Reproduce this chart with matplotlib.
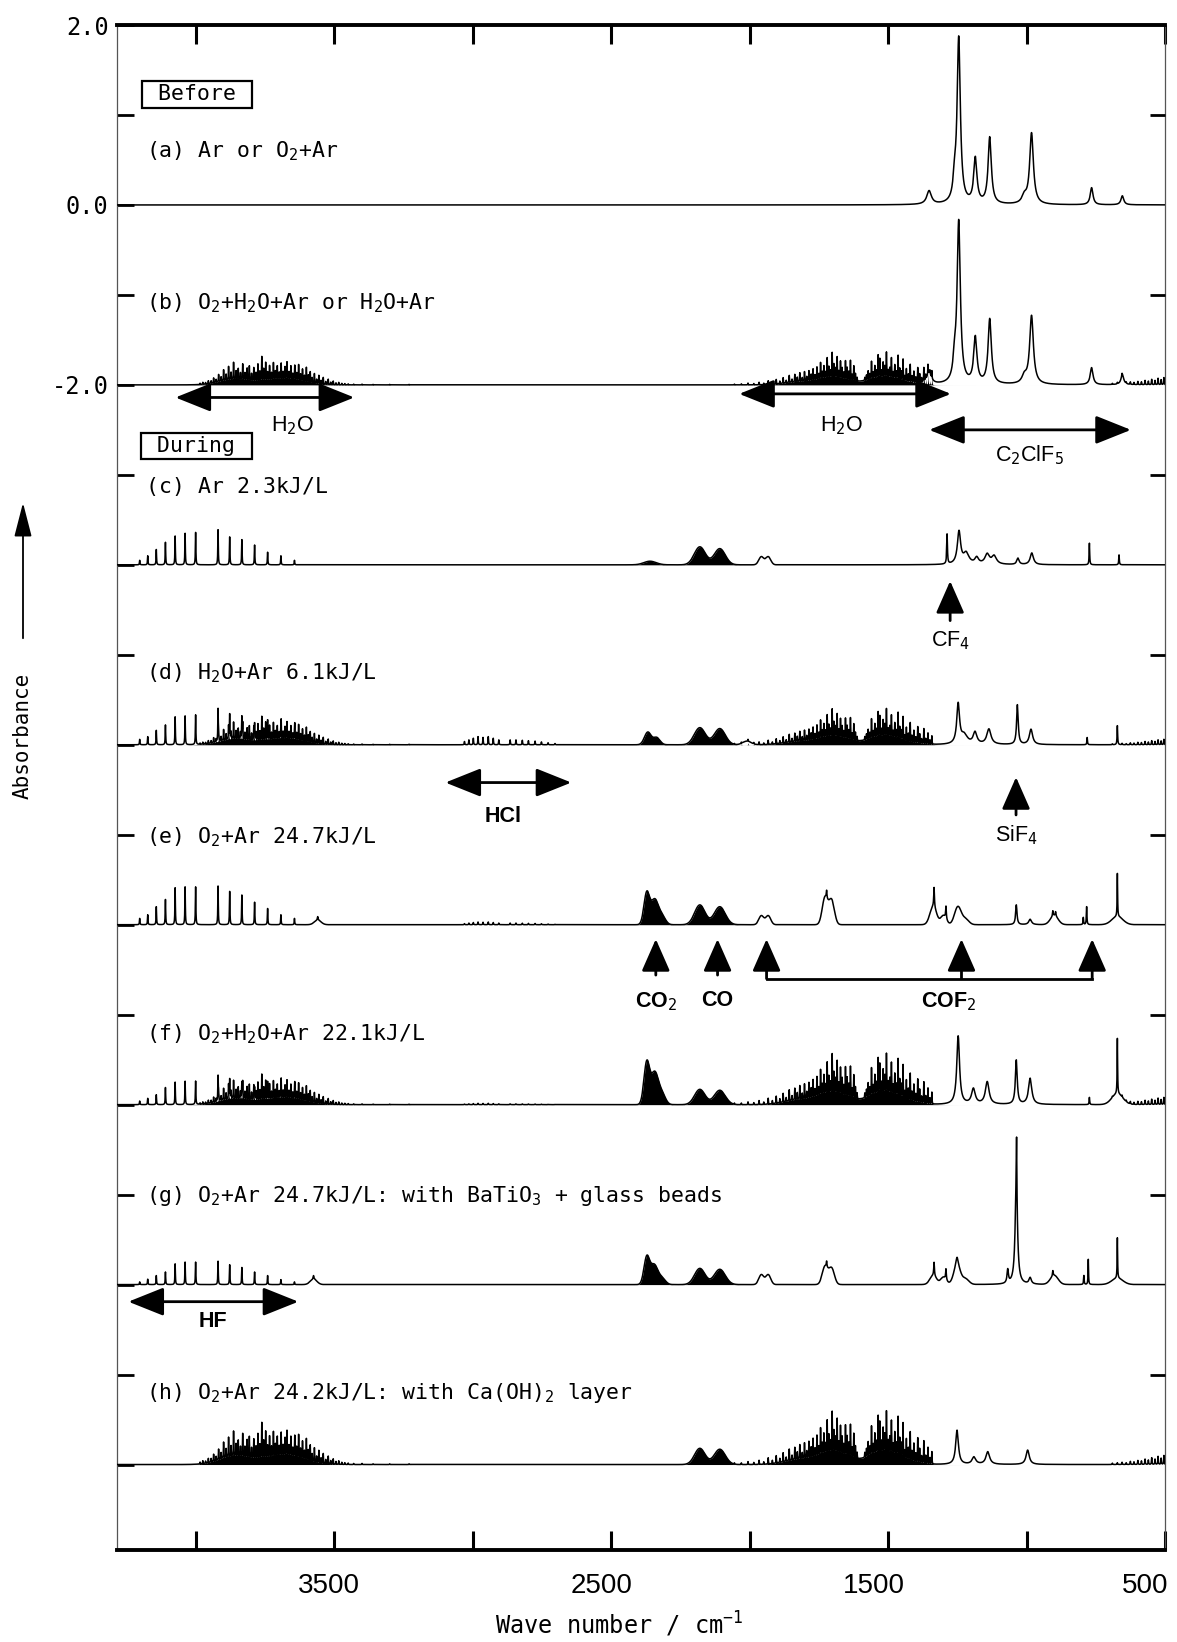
import numpy as np
import matplotlib.pyplot as plt

plt.rcParams['mathtext.fontset'] = 'custom'
plt.rcParams['mathtext.rm'] = 'DejaVu Sans Mono'
plt.rcParams['mathtext.it'] = 'DejaVu Sans Mono'
plt.rcParams['mathtext.bf'] = 'DejaVu Sans Mono:bold'

MONO = 'DejaVu Sans Mono'
NARROW = ['Liberation Sans Narrow', 'Liberation Sans', 'DejaVu Sans']

## trace offsets (absorbance) and titles
BASELINES = [0, -2, -4, -6, -8, -10, -12, -14]
TITLES = [r'(a) Ar or O$_2$+Ar',
          r'(b) O$_2$+H$_2$O+Ar or H$_2$O+Ar',
          r'(c) Ar 2.3kJ/L',
          r'(d) H$_2$O+Ar 6.1kJ/L',
          r'(e) O$_2$+Ar 24.7kJ/L',
          r'(f) O$_2$+H$_2$O+Ar 22.1kJ/L',
          r'(g) O$_2$+Ar 24.7kJ/L: with BaTiO$_3$ + glass beads',
          r'(h) O$_2$+Ar 24.2kJ/L: with Ca(OH)$_2$ layer']

## HF rotational lines (cm-1) and their heights in c..g
HF_WN = [4203, 4174, 4143, 4110, 4075, 4039, 4001, 3920, 3878, 3834, 3788, 3741, 3693, 3644]
HF_HT_C = [0.05, 0.10, 0.17, 0.25, 0.32, 0.35, 0.36, 0.39, 0.31, 0.28, 0.22, 0.14, 0.10, 0.05]
HF_HT_D = [0.06, 0.09, 0.16, 0.22, 0.31, 0.32, 0.33, 0.36, 0.28, 0.25, 0.19, 0.13, 0.09, 0.05]
HF_HT_E = [0.07, 0.11, 0.20, 0.28, 0.41, 0.42, 0.42, 0.43, 0.37, 0.33, 0.25, 0.18, 0.11, 0.07]
HF_HT_F = [0.04, 0.07, 0.11, 0.19, 0.25, 0.26, 0.26, 0.28, 0.22, 0.18, 0.14, 0.10, 0.07, 0.04]
HF_HT_G = [0.03, 0.06, 0.10, 0.14, 0.23, 0.25, 0.25, 0.26, 0.22, 0.19, 0.14, 0.10, 0.055, 0.03]
HF_HT_0 = [0.0] * 14

## HCl lines
HCL_WN = [3030, 3014, 2998, 2981, 2963, 2944, 2926, 2906, 2865, 2844, 2821, 2799, 2775, 2752, 2728, 2703]
HCL_REL = [0.4, 0.6, 0.8, 1.0, 0.9, 1.0, 0.8, 0.6, 0.6, 0.6, 0.55, 0.5, 0.45, 0.35, 0.25, 0.15]
HCL_SCALE = [0, 0, 0, 0.09, 0.03, 0.015, 0, 0]

## water: stretching band lines
H2O_STR_WN = [3985, 3975, 3965, 3955, 3945, 3936, 3927, 3918, 3909, 3900,
              3891, 3882, 3873, 3864, 3855, 3847, 3839, 3831, 3823, 3815,
              3807, 3799, 3791, 3783, 3776, 3769, 3762, 3755, 3748, 3741,
              3734, 3727, 3720, 3713, 3706, 3699, 3692, 3685, 3678, 3671,
              3664, 3657, 3650, 3643, 3636, 3629, 3622, 3615, 3608, 3601,
              3594, 3587, 3580, 3572, 3564, 3556, 3548, 3540, 3531, 3522,
              3513, 3504, 3494, 3484, 3473, 3462, 3450, 3430, 3400, 3360,
              3300, 3230]
H2O_STR_REL = [0.05, 0.08, 0.06, 0.12, 0.10, 0.20, 0.12, 0.30, 0.18, 0.45,
               0.25, 0.55, 0.30, 0.70, 0.35, 0.45, 0.28, 0.65, 0.30, 0.50,
               0.60, 0.30, 0.55, 0.35, 0.70, 0.40, 1.00, 0.50, 0.75, 0.35,
               0.60, 0.30, 0.70, 0.35, 0.55, 0.28, 0.65, 0.30, 0.50, 0.70,
               0.30, 0.55, 0.25, 0.60, 0.30, 0.65, 0.28, 0.50, 0.25, 0.60,
               0.30, 0.45, 0.22, 0.40, 0.18, 0.35, 0.15, 0.28, 0.12, 0.22,
               0.10, 0.15, 0.08, 0.10, 0.06, 0.05, 0.04, 0.03, 0.03, 0.02,
               0.02, 0.02]
H2O_STR_ENV = [(3860, 0.22, 55), (3680, 0.24, 65)]

## water: bending band lines
H2O_BEND_WN = [1342, 1349, 1356, 1364, 1371, 1379, 1386, 1393, 1400, 1407,
               1414, 1420, 1427, 1434, 1440, 1446, 1452, 1458, 1464, 1470,
               1476, 1482, 1488, 1494, 1500, 1506, 1512, 1518, 1524, 1530,
               1536, 1542, 1548, 1554, 1560, 1566, 1572, 1578, 1584, 1612,
               1618, 1624, 1630, 1636, 1642, 1648, 1654, 1660, 1666, 1672,
               1678, 1684, 1690, 1696, 1702, 1708, 1714, 1720, 1726, 1732,
               1738, 1744, 1750, 1757, 1764, 1771, 1778, 1786, 1794, 1802,
               1810, 1819, 1828, 1837, 1847, 1857, 1868, 1879, 1891, 1904,
               1918, 1933, 1949, 1966, 1985, 2006, 2030, 2055]
H2O_BEND_REL = [0.30, 0.15, 0.40, 0.20, 0.55, 0.18, 0.35, 0.60, 0.22, 0.45,
                0.25, 0.70, 0.30, 0.50, 0.20, 0.85, 0.35, 0.45, 0.95, 0.30,
                0.55, 0.25, 0.80, 0.40, 0.30, 1.00, 0.45, 0.60, 0.28, 0.75,
                0.90, 0.30, 0.50, 0.25, 0.70, 0.22, 0.35, 0.20, 0.12, 0.15,
                0.30, 0.60, 0.25, 0.80, 0.35, 0.50, 0.75, 0.28, 0.45, 0.70,
                0.30, 0.85, 0.40, 0.55, 1.00, 0.30, 0.45, 0.80, 0.25, 0.50,
                0.28, 0.65, 0.22, 0.50, 0.20, 0.45, 0.25, 0.40, 0.18, 0.38,
                0.15, 0.35, 0.18, 0.30, 0.12, 0.28, 0.10, 0.22, 0.10, 0.18,
                0.08, 0.15, 0.06, 0.10, 0.05, 0.07, 0.04, 0.03]
H2O_BEND_ENV = [(1705, 0.26, 55), (1515, 0.28, 60), (1830, 0.10, 50)]

## water: pure rotation lines at the low end
H2O_ROT_WN = [690, 672, 655, 640, 625, 612, 598, 585, 572, 560, 548, 536, 525, 514, 504]
H2O_ROT_REL = [0.15, 0.2, 0.25, 0.2, 0.35, 0.3, 0.45, 0.4, 0.6, 0.5, 0.75, 0.6, 0.9, 0.7, 1.0]

H2O_STR_SCALE = [0, 0.27, 0, 0.27, 0, 0.29, 0, 0.40]
H2O_BEND_SCALE = [0, 0.28, 0, 0.31, 0, 0.44, 0, 0.46]
H2O_ROT_SCALE = [0, 0.08, 0, 0.06, 0, 0.08, 0, 0.10]

## sharp peaks (centre, height, hwhm) - lorentzian
PEAKS_A = [(1352, 0.15, 10), (1260, 0.20, 6), (1245, 1.84, 7), (1185, 0.50, 7),
           (1133, 0.74, 7), (1008, 0.08, 10), (982, 0.79, 8), (765, 0.19, 6), (654, 0.10, 6)]
PEAKS_B = [(1352, 0.12, 10), (1260, 0.20, 6), (1245, 1.80, 7), (1185, 0.51, 7),
           (1133, 0.72, 7), (1008, 0.08, 10), (982, 0.76, 8), (765, 0.19, 6), (654, 0.11, 6)]
PEAKS_C = [(1287, 0.33, 1.5), (1244, 0.36, 7), (1218, 0.12, 12), (1180, 0.07, 8),
           (1142, 0.11, 10), (1117, 0.09, 10), (1031, 0.07, 5), (981, 0.13, 7),
           (773, 0.24, 1.2), (666, 0.11, 1.2)]
PEAKS_D = [(1247, 0.44, 6), (1225, 0.10, 14), (1186, 0.13, 8), (1136, 0.17, 9),
           (1033, 0.44, 3.5), (984, 0.17, 7), (781, 0.08, 1.2), (672, 0.20, 1.2)]
PEAKS_E = [(3560, 0.04, 1.5), (1722, 0.08, 1.2), (1334, 0.22, 1.5), (1291, 0.14, 1.5),
           (1037, 0.22, 3), (987, 0.06, 6), (905, 0.06, 1.5), (895, 0.05, 1.5),
           (795, 0.08, 1.2), (783, 0.20, 1.2), (672, 0.48, 1.0)]
PEAKS_F = [(1247, 0.76, 6), (1192, 0.17, 8), (1142, 0.25, 8), (1037, 0.49, 4),
           (987, 0.29, 7), (773, 0.08, 1.2), (672, 0.60, 1.0)]
PEAKS_G = [(3575, 0.04, 1.5), (1722, 0.06, 1.2), (1334, 0.15, 1.5), (1291, 0.12, 1.5),
           (1251, 0.10, 5), (1068, 0.15, 3), (1037, 1.10, 5), (1036, 0.58, 1.0),
           (987, 0.07, 5), (905, 0.06, 1.5), (793, 0.10, 1.2), (777, 0.28, 1.0), (672, 0.45, 1.0)]
PEAKS_H = [(1251, 0.38, 6), (1190, 0.08, 8), (1140, 0.14, 8), (996, 0.16, 7)]

## broad bands (centre, height, sigma) - gaussian outline
BANDS_C = [(1958, 0.09, 9), (1933, 0.09, 9)]
BANDS_D = [(2010, 0.04, 15)]
BANDS_E = [(3560, 0.05, 12), (1958, 0.10, 9), (1933, 0.10, 9), (1728, 0.30, 10),
           (1704, 0.27, 10), (1337, 0.20, 12), (1300, 0.10, 10), (1248, 0.20, 12),
           (1220, 0.06, 12), (900, 0.10, 14), (672, 0.09, 20)]
BANDS_F = [(672, 0.12, 20)]
BANDS_G = [(3575, 0.06, 12), (1958, 0.11, 9), (1933, 0.11, 9), (1728, 0.20, 10),
           (1704, 0.18, 10), (1337, 0.10, 12), (1300, 0.08, 10), (1251, 0.20, 12),
           (1220, 0.06, 12), (900, 0.10, 14), (672, 0.07, 20)]

## CO2 / CO rovibrational envelopes, drawn solid
FILL_C = [(2360, 0.04, 22), (2180, 0.20, 20), (2108, 0.18, 20)]
FILL_D = [(2368, 0.14, 12), (2336, 0.08, 12), (2180, 0.19, 20), (2108, 0.18, 20)]
FILL_E = [(2372, 0.34, 10), (2343, 0.28, 14), (2315, 0.08, 12), (2180, 0.22, 19), (2108, 0.20, 20)]
FILL_F = [(2372, 0.45, 10), (2343, 0.36, 14), (2315, 0.10, 12), (2180, 0.17, 19), (2108, 0.16, 20)]
FILL_G = [(2372, 0.29, 10), (2345, 0.22, 14), (2315, 0.06, 12), (2180, 0.18, 19), (2108, 0.17, 20)]
FILL_H = [(2180, 0.18, 19), (2108, 0.17, 20)]

PEAKS = [PEAKS_A, PEAKS_B, PEAKS_C, PEAKS_D, PEAKS_E, PEAKS_F, PEAKS_G, PEAKS_H]
BANDS = [[], [], BANDS_C, BANDS_D, BANDS_E, BANDS_F, BANDS_G, []]
FILLED = [[], [], FILL_C, FILL_D, FILL_E, FILL_F, FILL_G, FILL_H]
HF_HT = [HF_HT_0, HF_HT_0, HF_HT_C, HF_HT_D, HF_HT_E, HF_HT_F, HF_HT_G, HF_HT_0]


def lorentz(x, c, h, w):
    return h * w**2 / ((x - c)**2 + w**2)


def gauss(x, c, h, s):
    return h * np.exp(-0.5 * ((x - c) / s)**2)


wn = np.arange(480.0, 4300.0, 0.25)

fig = plt.figure(figsize=(11.77, 16.42), dpi=100)
ax = fig.add_axes([117/1177, 92/1642, 1048/1177, 1525/1642])

for i in range(8):
    base = BASELINES[i]
    line = np.zeros_like(wn)
    dense = np.zeros_like(wn)
    for c, h, w in PEAKS[i]:
        line += lorentz(wn, c, h, w)
    for c, h, s in BANDS[i]:
        line += gauss(wn, c, h, s)
    for c, h, s in FILLED[i]:
        dense += gauss(wn, c, h, s)
    for c, h in zip(HF_WN, HF_HT[i]):
        line += lorentz(wn, c, h, 1.0)
    if HCL_SCALE[i]:
        for c, r in zip(HCL_WN, HCL_REL):
            line += lorentz(wn, c, HCL_SCALE[i] * r, 1.0)
    ## water bands: packed lines, filled solid underneath
    k = H2O_STR_SCALE[i]
    if k:
        for c, r in zip(H2O_STR_WN, H2O_STR_REL):
            dense += lorentz(wn, c, k * r, 0.8)
        for c, h, s in H2O_STR_ENV:
            dense += gauss(wn, c, k * h, s)
    k = H2O_BEND_SCALE[i]
    if k:
        for c, r in zip(H2O_BEND_WN, H2O_BEND_REL):
            dense += lorentz(wn, c, k * r, 0.8)
        for c, h, s in H2O_BEND_ENV:
            dense += gauss(wn, c, k * h, s)
    k = H2O_ROT_SCALE[i]
    if k:
        for c, r in zip(H2O_ROT_WN, H2O_ROT_REL):
            line += lorentz(wn, c, k * r, 1.0)

    ax.fill_between(wn, base, base + dense, color='k', lw=0, zorder=2)
    ax.plot(wn, base + line + dense, color='k', lw=1.1, zorder=3)

## trace titles
TITLE_Y = [0.6, -1.09, -3.14, -5.2, -7.03, -9.22, -11.02, -13.21]
for t, y in zip(TITLES, TITLE_Y):
    ax.text(4182, y, t, fontfamily=MONO, fontsize=15.5, ha='left', va='center')

box = dict(boxstyle='square,pad=0.15', fc='white', ec='k', lw=1.6)
ax.text(3996, 1.23, ' Before ', fontfamily=MONO, fontsize=15.5, ha='center', va='center', bbox=box)
ax.text(3998, -2.68, ' During ', fontfamily=MONO, fontsize=15.5, ha='center', va='center', bbox=box)


## assignment arrows
def double_arrow(x1, x2, y):
    ax.annotate('', xy=(x2, y), xytext=(x1, y),
                arrowprops=dict(arrowstyle='<|-|>,head_length=0.55,head_width=0.22',
                                mutation_scale=40, lw=2.0, color='k',
                                shrinkA=0, shrinkB=0))


def up_arrow(x, y0, y1):
    ax.annotate('', xy=(x, y1), xytext=(x, y0),
                arrowprops=dict(arrowstyle='-|>,head_length=0.5,head_width=0.22',
                                mutation_scale=40, lw=2.0, color='k',
                                shrinkA=0, shrinkB=0))


def tag(x, y, s, bold=False):
    ax.text(x, y, s, fontfamily=NARROW, fontsize=15.5, ha='center', va='center',
            fontweight='bold' if bold else 'normal')


double_arrow(4074, 3428, -2.14)
tag(3650, -2.45, r'H$_2$O')
double_arrow(2038, 1273, -2.10)
tag(1670, -2.45, r'H$_2$O')
double_arrow(1352, 623, -2.50)
tag(991, -2.78, r'C$_2$ClF$_5$')

up_arrow(1276, -4.62, -4.18)
tag(1276, -4.84, r'CF$_4$')

double_arrow(3099, 2644, -6.42)
tag(2890, -6.80, 'HCl', bold=True)
up_arrow(1038, -6.78, -6.36)
tag(1038, -7.00, r'SiF$_4$')

up_arrow(2339, -8.56, -8.16)
tag(2339, -8.86, r'CO$_2$', bold=True)
up_arrow(2116, -8.56, -8.16)
tag(2116, -8.84, 'CO', bold=True)
for x in [1939, 1235, 763]:
    up_arrow(x, -8.60, -8.16)
ax.plot([1939, 763], [-8.60, -8.60], color='k', lw=2.0)
tag(1282, -8.86, r'COF$_2$', bold=True)

double_arrow(4244, 3630, -12.19)
tag(3939, -12.41, 'HF', bold=True)

## axes
ax.set_xlim(4285, 500)
ax.set_ylim(-14.95, 2.0)
ax.set_xticks([4000, 3500, 3000, 2500, 2000, 1500, 1000, 500])
ax.set_xticklabels([])
ax.tick_params(axis='x', direction='in', length=14, width=2.2, top=True, bottom=True)
for x, s in [(3518, '3500'), (2536, '2500'), (1551, '1500'), (572, '500')]:
    ax.text(x, -0.0236, s, transform=ax.get_xaxis_transform(), fontfamily=NARROW,
            fontsize=20, ha='center', va='center')

yt = np.arange(-14, 3)
ax.set_yticks(yt)
ax.set_yticklabels(['2.0' if v == 2 else '0.0' if v == 0 else '-2.0' if v == -2 else ''
                    for v in yt], fontfamily=MONO, fontsize=17)
ax.tick_params(axis='y', direction='in', length=12, width=2.0, pad=6)

ax2 = ax.twinx()
ax2.set_ylim(ax.get_ylim())
ax2.set_yticks(np.arange(-13, 2, 2))
ax2.set_yticklabels([])
ax2.tick_params(axis='y', direction='in', length=11, width=2.0)
for sp in ax2.spines.values():
    sp.set_visible(False)

ax.spines['top'].set_linewidth(2.8)
ax.spines['bottom'].set_linewidth(2.8)
ax.spines['left'].set_linewidth(0.9)
ax.spines['right'].set_linewidth(0.9)
ax.spines['left'].set_color('#555555')
ax.spines['right'].set_color('#555555')

fig.text(619/1177, 0.0105, r'Wave number / cm$^{-1}$', fontfamily=MONO, fontsize=17,
         ha='center', va='center')
fig.text(23/1177, 1 - 736/1642, 'Absorbance', fontfamily=MONO, fontsize=15,
         rotation=90, ha='center', va='center')
fig.add_artist(plt.matplotlib.patches.FancyArrowPatch(
    (23/1177, 1 - 641/1642), (23/1177, 1 - 500/1642), transform=fig.transFigure,
    arrowstyle='-|>,head_length=1.05,head_width=0.27', mutation_scale=20,
    lw=1.3, color='k'))

fig.savefig('out.png', dpi=100, facecolor='white')
